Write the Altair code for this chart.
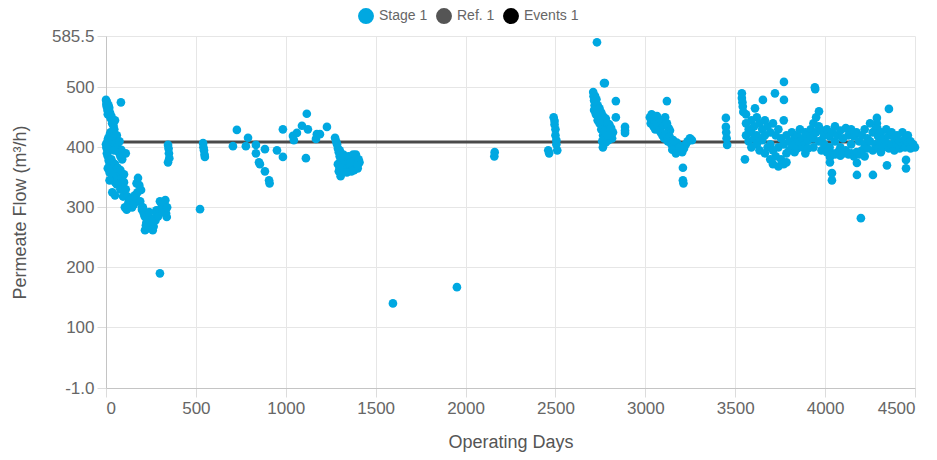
import altair as alt
import pandas as pd

# ---- data (day, permeate flow m3/h) ----
seg_early = [
    (0, 479), (2, 472), (4, 468), (6, 475), (8, 462), (10, 455), (14, 470), (18, 466), (22, 458),
    (26, 448), (30, 452), (34, 440), (38, 445), (42, 436), (46, 430), (50, 445), (83, 475),
    (0, 405), (3, 400), (5, 398), (8, 410), (12, 415), (15, 402), (20, 420), (25, 425), (30, 418),
    (35, 412), (40, 428), (45, 405), (50, 396), (55, 408), (60, 420), (65, 400), (70, 392),
    (75, 410), (80, 385), (85, 396), (90, 380), (95, 388),
    (5, 390), (10, 385), (15, 378), (20, 372), (25, 368), (30, 380), (35, 375), (40, 360),
    (45, 365), (50, 372), (55, 358), (60, 350), (65, 366), (70, 355), (75, 348), (80, 362),
    (85, 350), (90, 345), (95, 340), (100, 355),
    (10, 365), (20, 358), (30, 348), (40, 352), (50, 342), (60, 338), (70, 345), (80, 336),
    (90, 334), (100, 342), (20, 345), (35, 325), (50, 320), (65, 340), (80, 330), (95, 318),
    (45, 395), (110, 390),
]
seg_decline = [
    (110, 330), (120, 318), (130, 310), (140, 305), (150, 315), (160, 320), (170, 340), (178, 349),
    (185, 337), (195, 329), (105, 300), (115, 296), (125, 308), (135, 312), (145, 300), (155, 305),
    (165, 318), (175, 325), (190, 310), (200, 300), (200, 296), (210, 290), (217, 262), (225, 275),
    (235, 285), (245, 280), (255, 270), (265, 268), (275, 278), (285, 290), (205, 300), (215, 285),
    (222, 270), (232, 265), (240, 292), (250, 275), (260, 262), (270, 282), (280, 295), (290, 285),
    (300, 296), (310, 305), (320, 300), (330, 312), (334, 290), (338, 284), (300, 310), (315, 292),
    (325, 305), (340, 300), (345, 404), (348, 398), (350, 390), (352, 382), (345, 375), (300, 190),
]
seg_500 = [(523, 297), (540, 407), (542, 400), (545, 395), (548, 388), (550, 384)]
seg_1000 = [
    (706, 402), (728, 429), (778, 402), (790, 416), (834, 404), (834, 390), (851, 375), (856, 372),
    (884, 397), (884, 360), (907, 345), (910, 340), (951, 395), (984, 384), (984, 430), (1040, 419),
    (1045, 412), (1062, 424), (1090, 436), (1117, 456), (1112, 382), (1123, 430), (1173, 422),
    (1168, 414), (1190, 422), (1229, 434), (1274, 416),
]
seg_1350 = [
    (1280, 410), (1285, 405), (1290, 398), (1295, 392), (1300, 385), (1305, 378), (1290, 372),
    (1300, 365), (1310, 380), (1320, 370), (1330, 362), (1340, 375), (1350, 385), (1360, 368),
    (1370, 380), (1380, 372), (1390, 388), (1400, 365), (1410, 375), (1295, 360), (1305, 352),
    (1315, 368), (1325, 378), (1335, 384), (1345, 366), (1355, 372), (1365, 360), (1375, 388),
    (1385, 378), (1395, 368), (1405, 380), (1300, 395), (1320, 388), (1340, 358), (1360, 375),
    (1380, 362), (1400, 370),
]
seg_sparse = [(1596, 140), (1952, 167), (2160, 385), (2162, 392)]
seg_2500 = [
    (2460, 395), (2465, 390), (2490, 450), (2495, 444), (2495, 438), (2500, 430), (2500, 420),
    (2505, 412), (2505, 405), (2510, 395),
]
seg_2750 = [
    (2731, 575), (2770, 507), (2775, 507), (2710, 492), (2712, 485), (2715, 478), (2718, 470),
    (2720, 486), (2722, 475), (2725, 468), (2728, 480), (2730, 462), (2735, 470), (2740, 455),
    (2745, 465), (2750, 448), (2755, 458), (2760, 440), (2765, 452), (2770, 445), (2775, 436),
    (2780, 448), (2785, 430), (2790, 440), (2795, 425), (2800, 438), (2805, 420), (2810, 432),
    (2815, 415), (2820, 425), (2715, 462), (2725, 455), (2735, 445), (2745, 440), (2755, 430),
    (2765, 420), (2775, 428), (2785, 418), (2795, 412), (2805, 430), (2760, 410), (2770, 415),
    (2780, 408), (2790, 420), (2764, 400), (2836, 477), (2836, 450), (2887, 434), (2887, 428),
    (2887, 424),
]
seg_3100 = [
    (3025, 450), (3030, 440), (3035, 455), (3040, 445), (3045, 435), (3050, 448), (3055, 430),
    (3060, 442), (3065, 452), (3070, 438), (3080, 428), (3090, 445), (3100, 436), (3110, 450),
    (3120, 477), (3120, 440), (3130, 432), (3137, 428), (3085, 425), (3095, 420), (3105, 415),
    (3115, 422), (3125, 410), (3135, 418), (3145, 405), (3155, 412), (3165, 398), (3175, 408),
    (3185, 395), (3195, 402), (3205, 392), (3215, 398), (3225, 405), (3235, 410), (3248, 415),
    (3259, 412), (3209, 366), (3209, 345), (3212, 340), (3150, 396), (3170, 390), (3190, 400),
    (3448, 449), (3448, 434), (3450, 425), (3452, 415), (3455, 404),
]
seg_late_outliers = [
    (3537, 490), (3537, 482), (3540, 475), (3542, 468), (3545, 459), (3554, 380), (3610, 465),
    (3654, 479), (3721, 490), (3771, 509), (3771, 479), (3943, 500), (3945, 497), (3966, 460),
    (4027, 384), (4027, 375), (4038, 357), (4038, 345), (4199, 282), (4177, 374), (4177, 354),
    (4266, 354), (4355, 464), (4288, 449), (4288, 440), (4290, 432), (4344, 370), (4450, 379),
    (4450, 365), (4500, 400),
]
seg_late_band = [
    (3560, 420), (3560, 440), (3560, 455), (3575, 430), (3575, 410), (3590, 445), (3590, 425),
    (3590, 400), (3605, 435), (3605, 415), (3620, 450), (3620, 420), (3620, 405), (3635, 440),
    (3635, 395), (3650, 430), (3650, 412), (3665, 445), (3665, 420), (3665, 390), (3680, 435),
    (3680, 400), (3695, 425), (3695, 405), (3695, 380), (3710, 440), (3710, 395), (3710, 372),
    (3725, 420), (3725, 385), (3740, 430), (3740, 400), (3740, 368), (3755, 415), (3755, 380),
    (3770, 445), (3770, 405), (3770, 372), (3785, 420), (3785, 390), (3785, 375), (3800, 410),
    (3800, 395), (3815, 425), (3815, 400), (3830, 415), (3830, 405), (3830, 392), (3845, 420),
    (3845, 398), (3860, 430), (3860, 410), (3875, 415), (3875, 400), (3890, 425), (3890, 405),
    (3890, 390), (3905, 412), (3905, 398), (3920, 430), (3920, 418), (3935, 440), (3935, 415),
    (3935, 400), (3950, 450), (3950, 425), (3965, 435), (3965, 410), (3980, 428), (3980, 412),
    (3980, 395), (3995, 420), (3995, 405), (4010, 430), (4010, 392), (4025, 418), (4025, 400),
    (4040, 425), (4040, 390), (4055, 435), (4055, 410), (4055, 388), (4070, 420), (4070, 392),
    (4085, 428), (4085, 400), (4085, 386), (4100, 415), (4100, 390), (4115, 432), (4115, 395),
    (4130, 420), (4130, 388), (4145, 430), (4145, 405), (4145, 390), (4160, 418), (4160, 385),
    (4175, 425), (4175, 392), (4190, 410), (4190, 388), (4205, 420), (4205, 395), (4220, 430),
    (4220, 405), (4220, 385), (4235, 415), (4235, 398), (4250, 440), (4250, 410), (4265, 425),
    (4265, 395), (4280, 430), (4280, 405), (4295, 418), (4295, 398), (4310, 425), (4310, 410),
    (4310, 392), (4325, 415), (4325, 400), (4340, 430), (4340, 408), (4355, 420), (4355, 398),
    (4370, 425), (4370, 405), (4385, 415), (4385, 395), (4400, 420), (4400, 405), (4415, 410),
    (4415, 398), (4430, 425), (4430, 402), (4445, 415), (4445, 400), (4460, 420), (4460, 408),
    (4475, 410), (4475, 398), (4490, 405),
]

ref_days = [0, 4500]
ref_flow = [409, 409]

series_names = ["Stage 1", "Ref. 1", "Events 1"]
series_colors = ["#00A8E1", "#555555", "#000000"]
y_ticks = [-1, 100, 200, 300, 400, 500, 585.5]
x_ticks = [0, 500, 1000, 1500, 2000, 2500, 3000, 3500, 4000, 4500]

segments = [seg_early, seg_decline, seg_500, seg_1000, seg_1350, seg_sparse, seg_2500,
            seg_2750, seg_3100, seg_late_outliers, seg_late_band]
rows = [(d, v) for seg in segments for (d, v) in seg]
points = pd.DataFrame(rows, columns=["day", "flow"])
points["series"] = "Stage 1"
ref = pd.DataFrame({"day": ref_days, "flow": ref_flow})

FONT = "Liberation Sans"
xscale = alt.Scale(domain=[0, 4500], nice=False, zero=False)
yscale = alt.Scale(domain=[-1, 585.5], nice=False, zero=False)

xaxis = alt.Axis(values=x_ticks, title="Operating Days", format="d",
                 titleX=404.5, titleY=54, titleBaseline="middle", titleAlign="center")
yaxis = alt.Axis(values=y_ticks, title="Permeate Flow (m³/h)",
                 labelExpr="datum.value < 0 ? '-1.0' : toString(datum.value)",
                 titleX=-86, titleY=176, titleAngle=-90, titleBaseline="middle",
                 titleAlign="center")

line = alt.Chart(ref).mark_line(strokeWidth=3, color="#4a4a4a").encode(
    x=alt.X("day:Q", scale=xscale, axis=xaxis),
    y=alt.Y("flow:Q", scale=yscale, axis=yaxis),
)

dots = alt.Chart(points).mark_circle(size=75, opacity=1).encode(
    x=alt.X("day:Q", scale=xscale, axis=xaxis),
    y=alt.Y("flow:Q", scale=yscale, axis=yaxis),
    color=alt.Color(
        "series:N",
        scale=alt.Scale(domain=series_names, range=series_colors),
        legend=alt.Legend(
            orient="none", legendX=252, legendY=-28, direction="horizontal", title=None,
            symbolType="circle", symbolSize=254, symbolOpacity=1, symbolStrokeWidth=0,
            labelFontSize=14, labelColor="#666666", labelFont=FONT, labelOffset=5,
            columnPadding=8,
        ),
    ),
)

chart = (
    alt.layer(line, dots)
    .properties(
        width=809, height=352,
        autosize=alt.AutoSizeParams(type="none"),
        padding={"left": 98, "top": 28, "right": 14, "bottom": 64},
    )
    .configure_view(strokeWidth=0)
    .configure_axis(
        labelFont=FONT, titleFont=FONT, labelFontSize=17, titleFontSize=18,
        labelColor="#666666", titleColor="#555555", titleFontWeight="normal",
        gridColor="#e6e6e6", gridWidth=1, domainColor="#c4c4c4", tickColor="#dcdcdc",
        tickSize=9, labelPadding=3,
    )
)

chart.save("out.html", embed_options={"renderer": "svg", "actions": False})
